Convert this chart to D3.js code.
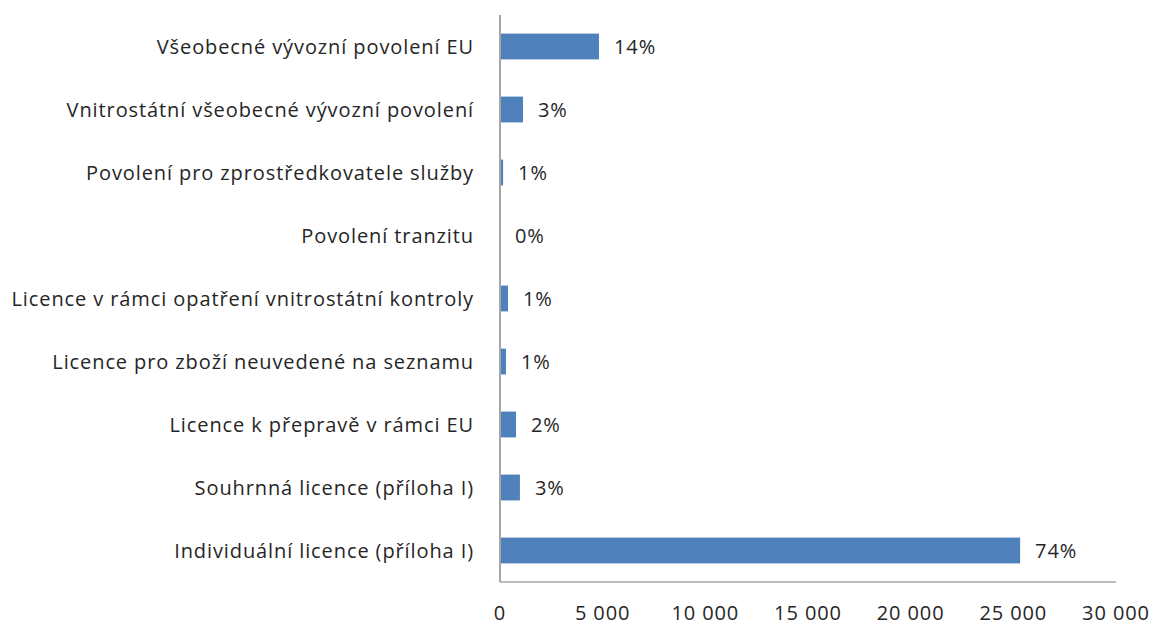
<!DOCTYPE html>
<html><head><meta charset="utf-8">
<script src="https://cdn.jsdelivr.net/npm/d3@7"></script>
<style>body{margin:0;background:#fff;} text{font-family:"Open Sans", Lato, sans-serif;}</style>
</head><body><svg id="c" width="1154" height="625"></svg>
<script>
const categories = [
  "Všeobecné vývozní povolení EU",
  "Vnitrostátní všeobecné vývozní povolení",
  "Povolení pro zprostředkovatele služby",
  "Povolení tranzitu",
  "Licence v rámci opatření vnitrostátní kontroly",
  "Licence pro zboží neuvedené na seznamu",
  "Licence k přepravě v rámci EU",
  "Souhrnná licence (příloha I)",
  "Individuální licence (příloha I)"
];
const values = [4820, 1120, 150, 0, 390, 290, 780, 970, 25330];
const pctLabels = ["14%", "3%", "1%", "0%", "1%", "1%", "2%", "3%", "74%"];
const xTicks = [0, 5000, 10000, 15000, 20000, 25000, 30000];

(function(){
const svg = d3.select("#c");
const pL = 500, pR = 1116, pT = 15, pB = 582;
const x = d3.scaleLinear().domain([0, 30000]).range([pL, pR]);
const y = d3.scaleBand().domain(categories).range([pT, pB]).paddingInner(0.59).paddingOuter(0.295);
const fmt = v => d3.format(",")(v).replace(/,/g, " ");
const ls = "0.9px";

svg.selectAll("rect.bar").data(values).join("rect").attr("class","bar")
  .attr("x", x(0)).attr("y", (d,i)=>y(categories[i]))
  .attr("width", d => x(d)-x(0)).attr("height", y.bandwidth())
  .attr("fill", "#4f81bd");

svg.append("line").attr("x1", pL).attr("x2", pL).attr("y1", pT).attr("y2", pB)
  .attr("stroke", "#a6a6a6").attr("stroke-width", 2);
svg.append("line").attr("x1", pL).attr("x2", pR).attr("y1", pB).attr("y2", pB)
  .attr("stroke", "#a6a6a6").attr("stroke-width", 1.5);

svg.selectAll("text.cat").data(categories).join("text").attr("class","cat")
  .attr("x", 474).attr("y", d => y(d)+y.bandwidth()/2).attr("dy","0.35em")
  .attr("text-anchor","end").attr("font-size", 20).attr("letter-spacing", ls)
  .attr("fill","#262626").text(d=>d);

svg.selectAll("text.pct").data(values).join("text").attr("class","pct")
  .attr("x", d => x(d)+15).attr("y", (d,i)=>y(categories[i])+y.bandwidth()/2).attr("dy","0.35em")
  .attr("font-size", 20).attr("letter-spacing", ls).attr("fill","#262626").text((d,i)=>pctLabels[i]);

svg.selectAll("text.tick").data(xTicks).join("text").attr("class","tick")
  .attr("x", d=>x(d)).attr("y", 620).attr("text-anchor","middle")
  .attr("font-size", 20).attr("letter-spacing", ls).attr("fill","#262626").text(d=>fmt(d));
})();
</script></body></html>
